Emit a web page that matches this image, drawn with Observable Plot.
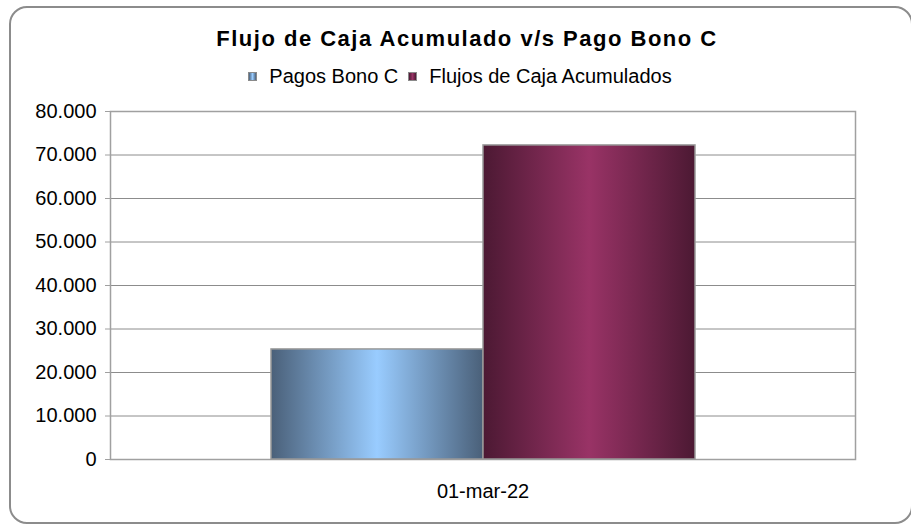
<!DOCTYPE html>
<html>
<head>
<meta charset="utf-8">
<script src="https://cdn.jsdelivr.net/npm/d3@7"></script>
<script src="https://cdn.jsdelivr.net/npm/@observablehq/plot@0.6"></script>
<style>
  html, body { margin: 0; padding: 0; background: #fff; }
  #wrap { position: relative; width: 911px; height: 524px; overflow: hidden; font-family: "Liberation Sans", Arial, sans-serif; color: #000; }
  #frame { position: absolute; left: 9px; top: 6px; width: 904px; height: 518px; border: 2px solid #8c8c8c; border-radius: 18px; box-sizing: border-box; }
  #title { position: absolute; left: 0; width: 934px; top: 28px; text-align: center; font-weight: bold; font-size: 22px; line-height: 22px; white-space: nowrap; letter-spacing: 1.5px; }
  #legend { position: absolute; left: 0; width: 920px; top: 66px; text-align: center; font-size: 20px; line-height: 20px; white-space: nowrap; }
  .item { display: inline-block; margin: 0 5px; }
  .sw { display: inline-block; width: 7px; height: 7px; border: 1px solid #8a8a8a; margin-right: 12px; vertical-align: 2px; }
  #chart { position: absolute; left: 0; top: 95px; }
</style>
</head>
<body>
<div id="wrap">
  <div id="frame"></div>
  <div id="title"></div>
  <div id="legend"></div>
  <div id="chart"></div>
</div>
<script>
const chartTitle = "Flujo de Caja Acumulado v/s Pago Bono C";
const dates = ["01-mar-22"];
const series = ["Pagos Bono C", "Flujos de Caja Acumulados"];
const pagosBonoC = [25300];
const flujosAcumulados = [72200];
const yTicks = [0, 10000, 20000, 30000, 40000, 50000, 60000, 70000, 80000];
const seriesLight = ["#99ccff", "#993366"];
const seriesDark = ["#4a6079", "#4c1933"];

const data = dates.flatMap((d, i) => [
  {date: d, series: series[0], value: pagosBonoC[i]},
  {date: d, series: series[1], value: flujosAcumulados[i]}
]);

const locale = d3.formatLocale({decimal: ",", thousands: ".", grouping: [3], currency: ["", ""]});
const fmt = locale.format(",d");

document.getElementById("title").textContent = chartTitle;
const legend = document.getElementById("legend");
series.forEach((s, i) => {
  const item = document.createElement("span");
  item.className = "item";
  const sw = document.createElement("span");
  sw.className = "sw";
  sw.style.background = `linear-gradient(to right, ${seriesDark[i]}, ${seriesLight[i]} 50%, ${seriesDark[i]})`;
  item.appendChild(sw);
  item.appendChild(document.createTextNode(s));
  legend.appendChild(item);
});

const chart = Plot.plot({
  width: 911,
  height: 429,
  marginTop: 16,
  marginBottom: 65,
  marginLeft: 110,
  marginRight: 56,
  style: {fontFamily: "'Liberation Sans', Arial, sans-serif", fontSize: "20px", color: "#000", background: "transparent", overflow: "visible"},
  fx: {domain: dates, padding: 0, label: null, axis: null},
  x: {domain: series, paddingInner: 0, paddingOuter: 0.753, axis: null},
  y: {domain: [0, 80000], label: null, axis: null},
  marks: [
    Plot.gridY(yTicks, {stroke: "#8c8c8c", strokeOpacity: 1, strokeWidth: 1}),
    Plot.frame({stroke: "#a0a0a0", strokeWidth: 1.5}),
    Plot.axisY(yTicks, {tickSize: 5, tickPadding: 9, tickFormat: fmt, stroke: "#a0a0a0", label: null, fontSize: 20}),
    Plot.barY(data.filter(d => d.series === series[0]), {fx: "date", x: "series", y: "value", fill: "url(#grad0)", stroke: "#999", strokeWidth: 1.5}),
    Plot.barY(data.filter(d => d.series === series[1]), {fx: "date", x: "series", y: "value", fill: "url(#grad1)", stroke: "#999", strokeWidth: 1.5}),
    Plot.axisFx({anchor: "bottom", tickSize: 0, tickPadding: 24, label: null, fontSize: 20})
  ]
});

const defs = d3.select(chart).insert("defs", ":first-child");
series.forEach((s, i) => {
  const g = defs.append("linearGradient").attr("id", "grad" + i).attr("x1", "0").attr("x2", "1").attr("y1", "0").attr("y2", "0");
  g.append("stop").attr("offset", "0").attr("stop-color", seriesDark[i]);
  g.append("stop").attr("offset", "0.5").attr("stop-color", seriesLight[i]);
  g.append("stop").attr("offset", "1").attr("stop-color", seriesDark[i]);
});

document.getElementById("chart").appendChild(chart);
</script>
</body>
</html>
